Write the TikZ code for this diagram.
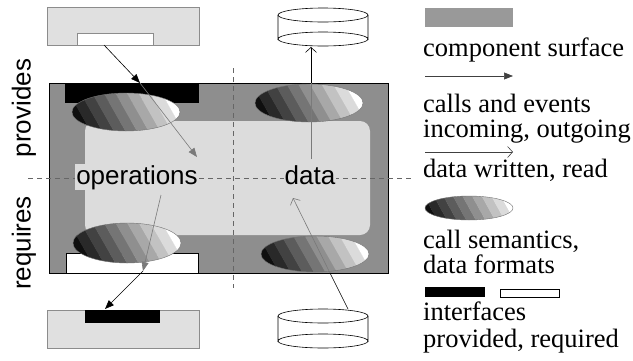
\documentclass[tikz,border=0pt]{standalone}
\usepackage{fontspec}
\setmainfont{Liberation Serif}
\setsansfont{Liberation Sans}
\usetikzlibrary{arrows.meta}
\definecolor{surf}{HTML}{8E8E8E}
\definecolor{legsurf}{HTML}{999999}
\definecolor{innerc}{HTML}{DCDCDC}
\definecolor{compc}{HTML}{E0E0E0}
\definecolor{arrgray}{HTML}{7A7A7A}
\newcommand{\stripell}[4]{%
  \begin{scope}
    \clip (#1,#2) ellipse [x radius=#3, y radius=#4];
    \foreach \v [count=\i from 0] in {6,16,26,36,46,56,66,76,86,100} {
      \pgfmathsetmacro\bw{(2*#3+8)/10}
      \pgfmathsetmacro\xa{#1-#3-4+\i*\bw}
      \pgfmathsetmacro\xb{\xa+\bw+0.3}
      \fill[white!\v!black] (\xa-0.6*#4,#2-#4-1) -- (\xb-0.6*#4,#2-#4-1) -- (\xb+0.6*#4,#2+#4+1) -- (\xa+0.6*#4,#2+#4+1) -- cycle;
    }
  \end{scope}
  \draw[black!55,line width=0.4pt] (#1,#2) ellipse [x radius=#3, y radius=#4];
}
\tikzset{
  callarrow/.style={-{Triangle[length=9pt,width=7pt]},line width=0.6pt},
  callgray/.style={-{Triangle[length=9pt,width=7pt]},line width=0.6pt,draw=arrgray,color=arrgray},
  plainblack/.style={line width=0.6pt},
  plaingray/.style={line width=0.6pt,draw=arrgray},
  dataarrow/.style={-{Straight Barb[length=5pt,width=11pt]},line width=0.6pt},
  datagray/.style={-{Straight Barb[length=5pt,width=11pt]},line width=0.6pt,draw=arrgray,color=arrgray},
  sidelabel/.style={font=\sffamily\fontsize{26}{26}\selectfont},
  partlabel/.style={font=\sffamily\fontsize{26}{26}\selectfont,fill=innerc,inner sep=1pt,anchor=base},
  legtext/.style={font=\fontsize{26.5}{26}\selectfont,anchor=base west,inner sep=0pt},
  compbox/.style={fill=compc,draw=black!45,line width=0.5pt},
  guide/.style={draw=black!60,line width=0.5pt,dash pattern=on 5pt off 4pt},
  cyl/.style={draw=black,line width=0.6pt,fill=white}
}
\begin{document}
\begin{tikzpicture}[x=1pt,y=-1pt]
\useasboundingbox (0,0) rectangle (633,360);
% component surface
\node[draw=black,line width=0.7pt,fill=surf,minimum width=339pt,minimum height=190pt,inner sep=0pt] (comp) at (218.5,178) {};
\node[fill=innerc,rounded corners=10pt,minimum width=285pt,minimum height=114pt,inner sep=0pt] (inner) at (227.5,178) {};
% guide lines
\coordinate (vtop) at (233,68);
\coordinate (vbot) at (233,288);
\coordinate (hl) at (28,178);
\coordinate (hr) at (414,178);
\draw[guide] (vtop) -- (vbot);
\draw[guide] (hl) -- (hr);
% interfaces
\node[fill=black,minimum width=134pt,minimum height=20pt,inner sep=0pt] (provif) at (132,93) {};
\node[fill=white,draw=black,line width=0.5pt,minimum width=132pt,minimum height=20pt,inner sep=0pt] (reqif) at (132,263) {};
% semantics ellipses
\stripell{126}{112}{54}{19}
\stripell{309}{103}{54}{19}
\stripell{127}{243}{54}{20}
\stripell{315}{254}{54}{18}
% external components
\node[compbox,minimum width=152pt,minimum height=38pt,inner sep=0pt] (topcomp) at (123,26) {};
\node[fill=white,draw=black!45,line width=0.5pt,minimum width=76pt,minimum height=12pt,inner sep=0pt] (topreq) at (115,39) {};
\node[compbox,minimum width=152pt,minimum height=38pt,inner sep=0pt] (botcomp) at (123,329) {};
\node[fill=black,minimum width=75pt,minimum height=13pt,inner sep=0pt] (botprov) at (122.5,316.5) {};
% cylinders
\filldraw[cyl] (278,15) -- (278,39) arc[start angle=180,end angle=360,x radius=45,y radius=7] -- (368,15);
\draw[cyl] (323,15) ellipse [x radius=45, y radius=7];
\draw[line width=0.6pt] (278,39) arc[start angle=180,end angle=0,x radius=45,y radius=7];
\coordinate (topdb) at (311,47);
\filldraw[cyl] (278,316) -- (278,341) arc[start angle=180,end angle=360,x radius=45,y radius=7] -- (368,316);
\draw[cyl] (323,316) ellipse [x radius=45, y radius=7];
\draw[line width=0.6pt] (278,341) arc[start angle=180,end angle=0,x radius=45,y radius=7];
\coordinate (botdb) at (348,309);
% arrows
\coordinate (a1s) at (104,45);
\coordinate (a1m) at (140,83);
\coordinate (a1e) at (197,157);
\draw[callarrow] (a1s) -- (a1m);
\draw[callgray] (a1m) -- (a1e);
\coordinate (a2s) at (161,195);
\coordinate (a2m) at (143,271);
\coordinate (a2e) at (105,309);
\draw[callgray] (a2s) -- (a2m);
\draw[callarrow] (a2m) -- (a2e);
\coordinate (a3s) at (311,159);
\coordinate (a3m) at (311,83);
\draw[plaingray] (a3s) -- (a3m);
\draw[dataarrow] (a3m) -- (topdb);
\coordinate (a4m) at (330,273);
\coordinate (a4e) at (293,198);
\draw[plainblack] (botdb) -- (a4m);
\draw[datagray] (a4m) -- (a4e);
% labels
\node[partlabel] (ops) at (137,184) {operations};
\node[partlabel] (dat) at (310,184) {data};
\node[sidelabel,rotate=90] (prov) at (24,108) {provides};
\node[sidelabel,rotate=90] (req) at (24,243) {requires};
% legend
\node[fill=legsurf,minimum width=88pt,minimum height=19pt,inner sep=0pt] (lgsurf) at (469,17.5) {};
\node[legtext] (t1) at (423,56) {component surface};
\coordinate (lc1) at (425,76);
\coordinate (lc2) at (513,76);
\draw[callarrow,draw=black!75,color=black!75] (lc1) -- (lc2);
\node[legtext] (t2) at (423,112) {calls and events};
\node[legtext] (t3) at (423,137) {incoming, outgoing};
\coordinate (ld1) at (425,152);
\coordinate (ld2) at (513,152);
\draw[dataarrow,draw=black!75,color=black!75] (ld1) -- (ld2);
\node[legtext] (t4) at (423,177) {data written, read};
\stripell{469}{208}{44}{12}
\node[legtext] (t5) at (423,248) {call semantics,};
\node[legtext] (t6) at (423,273) {data formats};
\node[fill=black,minimum width=60pt,minimum height=10pt,inner sep=0pt] (lgprov) at (455,292) {};
\node[fill=white,draw=black,line width=0.5pt,minimum width=59pt,minimum height=8pt,inner sep=0pt] (lgreq) at (529.5,293) {};
\node[legtext] (t7) at (423,320) {interfaces};
\node[legtext] (t8) at (423,347) {provided, required};
\end{tikzpicture}
\end{document}
